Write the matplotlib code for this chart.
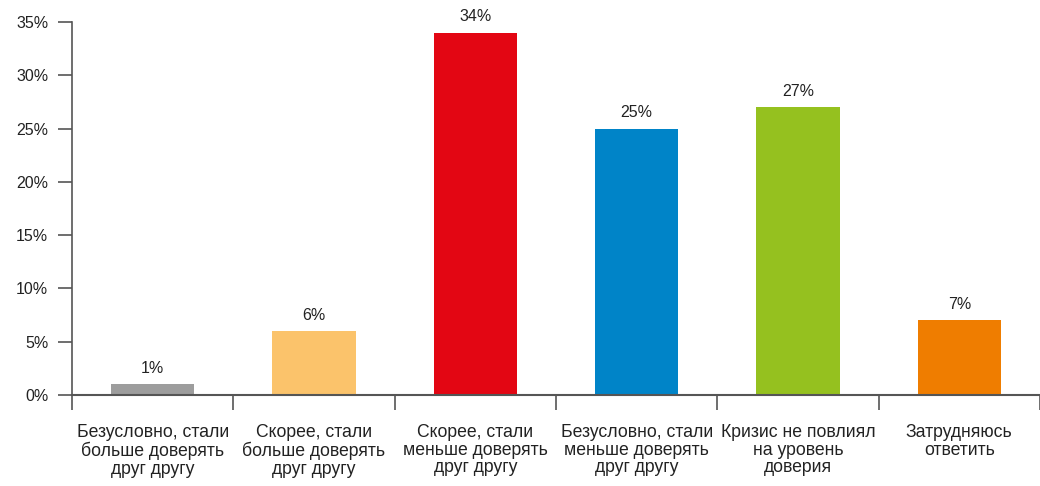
import numpy as np
import matplotlib.pyplot as plt
from matplotlib.ticker import FuncFormatter

categories = ['Безусловно, стали\nбольше доверять\nдруг другу',
              'Скорее, стали\nбольше доверять\nдруг другу',
              'Скорее, стали\nменьше доверять\nдруг другу',
              'Безусловно, стали\nменьше доверять\nдруг другу',
              'Кризис не повлиял\nна уровень\nдоверия',
              'Затрудняюсь\nответить']
values = [1, 6, 34, 25, 27, 7]
colors = ['#9d9d9d', '#fbc36b', '#e30613', '#0084c8', '#95c11f', '#ef7d00']

plt.rcParams['font.family'] = ['Liberation Sans', 'DejaVu Sans']

fig = plt.figure(figsize=(10.4, 4.86), dpi=100)
ax = fig.add_axes([0.0692, 0.1872, 0.9308, 0.7675])

x = np.arange(len(values))
bars = ax.bar(x, values, width=0.515, color=colors, zorder=2)

# value labels above bars
for xi, v in zip(x, values):
    ax.annotate(f'{v}%', (xi, v), xytext=(0, 6), textcoords='offset points',
                ha='center', va='bottom', fontsize=11.5, color='#222222')

ax.set_xlim(-0.5, 5.46)
ax.set_ylim(0, 35)
ax.set_yticks(np.arange(0, 36, 5))
ax.yaxis.set_major_formatter(FuncFormatter(lambda v, p: f'{int(v)}%'))

ax.set_xticks(x)
ax.set_xticklabels(categories, fontsize=12.7, color='#222222', linespacing=1.05)
ax.set_xticks(np.arange(-0.5, 6, 1), minor=True)
ax.tick_params(axis='x', which='major', length=0, pad=21)
ax.tick_params(axis='x', which='minor', length=11, width=1.2, color='#555555', direction='out')
ax.tick_params(axis='y', length=10, width=1.2, color='#555555', labelsize=11.5,
               labelcolor='#222222', pad=7)

for side in ['top', 'right']:
    ax.spines[side].set_visible(False)
ax.spines['left'].set_color('#555555')
ax.spines['bottom'].set_color('#555555')
ax.spines['left'].set_linewidth(1.2)
ax.spines['bottom'].set_linewidth(1.5)

fig.savefig('out.png', dpi=100)
